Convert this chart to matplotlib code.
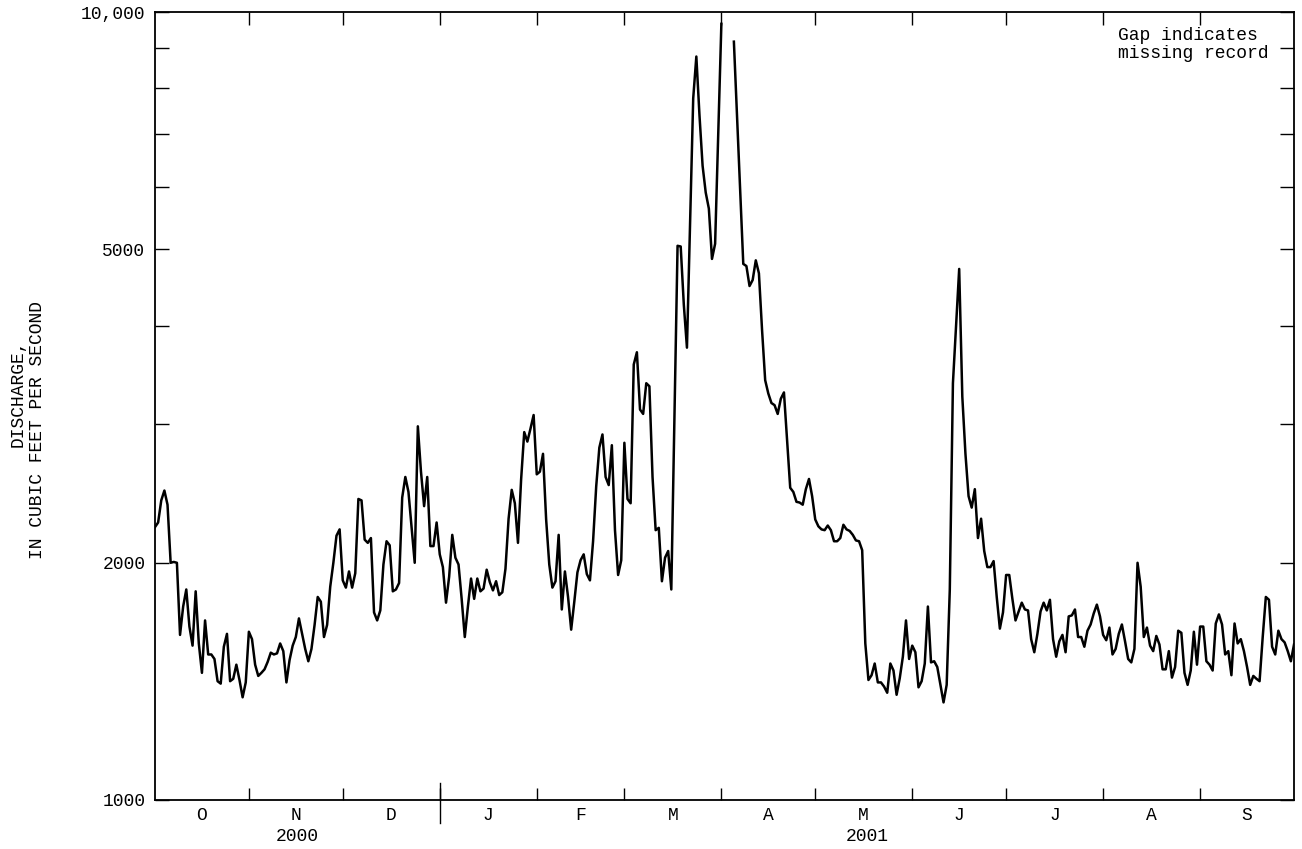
import matplotlib

matplotlib.use("Agg")
import matplotlib.pyplot as plt
import matplotlib.transforms as mtransforms
from matplotlib.ticker import FixedLocator, NullLocator, NullFormatter
import numpy as np

plt.rcParams["font.family"] = ["Liberation Mono", "DejaVu Sans Mono"]

# daily mean discharge, water year Oct 2000 - Sep 2001 (cfs); nan = missing record
oct_q = [2220, 2250, 2400, 2470, 2370, 2000, 2005, 2000, 1620, 1760, 1850, 1660, 1570, 1840, 1580, 1450,
         1690, 1530, 1530, 1510, 1415, 1405, 1565, 1625, 1415, 1425, 1485, 1420, 1350, 1410, 1635]
nov_q = [1600, 1485, 1437, 1450, 1465, 1497, 1538, 1530, 1535, 1580, 1545, 1410, 1505, 1570, 1610,
         1700, 1625, 1555, 1500, 1555, 1668, 1810, 1785, 1610, 1668, 1865, 2000, 2165, 2205, 1900]
dec_q = [1860, 1950, 1860, 1940, 2410, 2400, 2140, 2120, 2150, 1730, 1690, 1740, 1990, 2130, 2105, 1840,
         1850, 1885, 2420, 2570, 2460, 2220, 2000, 2980, 2610, 2360, 2570, 2100, 2100, 2250, 2050]
jan_q = [1975, 1780, 1920, 2170, 2030, 1990, 1800, 1610, 1760, 1910, 1800, 1910, 1840, 1855, 1960, 1890,
         1845, 1895, 1820, 1835, 1965, 2275, 2475, 2380, 2120, 2550, 2930, 2850, 2960, 3080, 2590]
feb_q = [2610, 2750, 2270, 1990, 1860, 1895, 2170, 1745, 1950, 1810, 1645, 1785, 1945, 2015,
         2050, 1935, 1900, 2130, 2500, 2800, 2910, 2570, 2510, 2820, 2200, 1930, 2015, 2840]
mar_q = [2410, 2380, 3570, 3700, 3130, 3090, 3380, 3350, 2570, 2200, 2215, 1895, 2030, 2070, 1850, 3050,
         5050, 5040, 4250, 3750, 5420, 7770, 8780, 7400, 6380, 5900, 5630, 4860, 5080, 7030, 9660]
apr_q = [np.nan, np.nan, np.nan, 9170, 7380, 5940, 4790, 4760, 4490, 4570, 4840, 4660, 3950, 3410, 3280,
         3190, 3170, 3090, 3230, 3290, 2860, 2490, 2460, 2390, 2385, 2370, 2480, 2555, 2430, 2270]
may_q = [2225, 2205, 2200, 2230, 2200, 2130, 2130, 2150, 2235, 2205, 2195, 2170, 2135, 2130, 2075, 1580,
         1420, 1440, 1490, 1410, 1410, 1393, 1368, 1490, 1460, 1360, 1427, 1520, 1690, 1510, 1570]
jun_q = [1540, 1390, 1415, 1490, 1760, 1495, 1500, 1475, 1400, 1330, 1400, 1850, 3380, 3990, 4720,
         3250, 2750, 2430, 2350, 2480, 2150, 2275, 2070, 1975, 1975, 2010, 1810, 1650, 1730, 1930]
jul_q = [1930, 1800, 1690, 1735, 1780, 1745, 1740, 1600, 1540, 1625, 1735, 1780, 1740, 1795, 1600, 1520,
         1590, 1620, 1540, 1710, 1715, 1745, 1610, 1610, 1565, 1640, 1670, 1725, 1770, 1710, 1620]
aug_q = [1595, 1655, 1530, 1555, 1625, 1670, 1590, 1510, 1495, 1555, 2000, 1865, 1610, 1655, 1570, 1545,
         1615, 1575, 1465, 1465, 1545, 1430, 1475, 1640, 1630, 1450, 1400, 1460, 1635, 1485, 1660]
sep_q = [1660, 1500, 1485, 1460, 1675, 1720, 1670, 1530, 1545, 1440, 1675, 1580, 1600, 1545, 1475,
         1400, 1437, 1425, 1415, 1610, 1810, 1795, 1565, 1530, 1640, 1600, 1585, 1545, 1500, 1575]

months = ["O", "N", "D", "J", "F", "M", "A", "M", "J", "J", "A", "S"]
years = ["2000", "2001"]
ytick_vals = [1000, 2000, 3000, 4000, 5000, 6000, 7000, 8000, 9000, 10000]
ytick_text = ["1000", "2000", "", "", "5000", "", "", "", "", "10,000"]
ylabel_lines = ["DISCHARGE,", "IN CUBIC FEET PER SECOND"]
note_lines = ["Gap indicates", "missing record"]

q = np.array(oct_q + nov_q + dec_q + jan_q + feb_q + mar_q + apr_q + may_q
             + jun_q + jul_q + aug_q + sep_q, dtype=float)
day = np.arange(1, len(q) + 1)

month_len = [len(m) for m in (oct_q, nov_q, dec_q, jan_q, feb_q, mar_q, apr_q,
                              may_q, jun_q, jul_q, aug_q, sep_q)]
edges = np.concatenate([[0], np.cumsum(month_len)]).astype(float)
edges[0] = 1
bounds = edges[1:-1]
centers = (edges[:-1] + edges[1:]) / 2

FS = 13
fig = plt.figure(figsize=(13.02, 8.49), dpi=100)
ax = fig.add_axes([155 / 1302, 1 - 800 / 849, (1294 - 155) / 1302, (800 - 12) / 849])

ax.plot(day, q, color="black", lw=1.8)
ax.set_yscale("log")
ax.set_ylim(1000, 10000)
ax.set_xlim(1, len(q))

ax.yaxis.set_major_locator(FixedLocator(ytick_vals))
ax.set_yticklabels(ytick_text)
ax.yaxis.set_minor_locator(NullLocator())
ax.yaxis.set_minor_formatter(NullFormatter())

ax.xaxis.set_major_locator(FixedLocator(bounds))
ax.xaxis.set_major_formatter(NullFormatter())
ax.xaxis.set_minor_locator(FixedLocator(centers))
ax.set_xticklabels(months, minor=True)

ax.tick_params(axis="y", which="major", direction="in", length=10, width=1.0,
               left=True, right=True, labelsize=FS, pad=7)
ax.tick_params(axis="x", which="major", direction="in", length=9, width=1.0,
               top=True, bottom=True)
ax.tick_params(axis="x", which="minor", length=0, labelsize=FS, pad=5)
for s in ax.spines.values():
    s.set_linewidth(1.3)

# year separator at the Jan boundary
trans = mtransforms.blended_transform_factory(ax.transData, ax.transAxes)
ax.plot([bounds[2], bounds[2]], [-0.029, 0.021], color="black", lw=1.0,
        transform=trans, clip_on=False)
ax.text((edges[0] + bounds[2]) / 2, -0.0457, years[0], transform=trans,
        ha="center", va="center", fontsize=FS)
ax.text((bounds[2] + edges[-1]) / 2, -0.0457, years[1], transform=trans,
        ha="center", va="center", fontsize=FS)

# note, upper right
fig.text(1118 / 1302, 1 - 36 / 849, note_lines[0], ha="left", va="center", fontsize=FS)
fig.text(1118 / 1302, 1 - 53 / 849, note_lines[1], ha="left", va="center", fontsize=FS)

# y label, two rotated lines
fig.text(18 / 1302, 1 - 393 / 849, ylabel_lines[0], rotation=90,
         ha="center", va="center", fontsize=FS)
fig.text(38 / 1302, 1 - 430 / 849, ylabel_lines[1], rotation=90,
         ha="center", va="center", fontsize=FS)

fig.savefig("out.png", dpi=100)
